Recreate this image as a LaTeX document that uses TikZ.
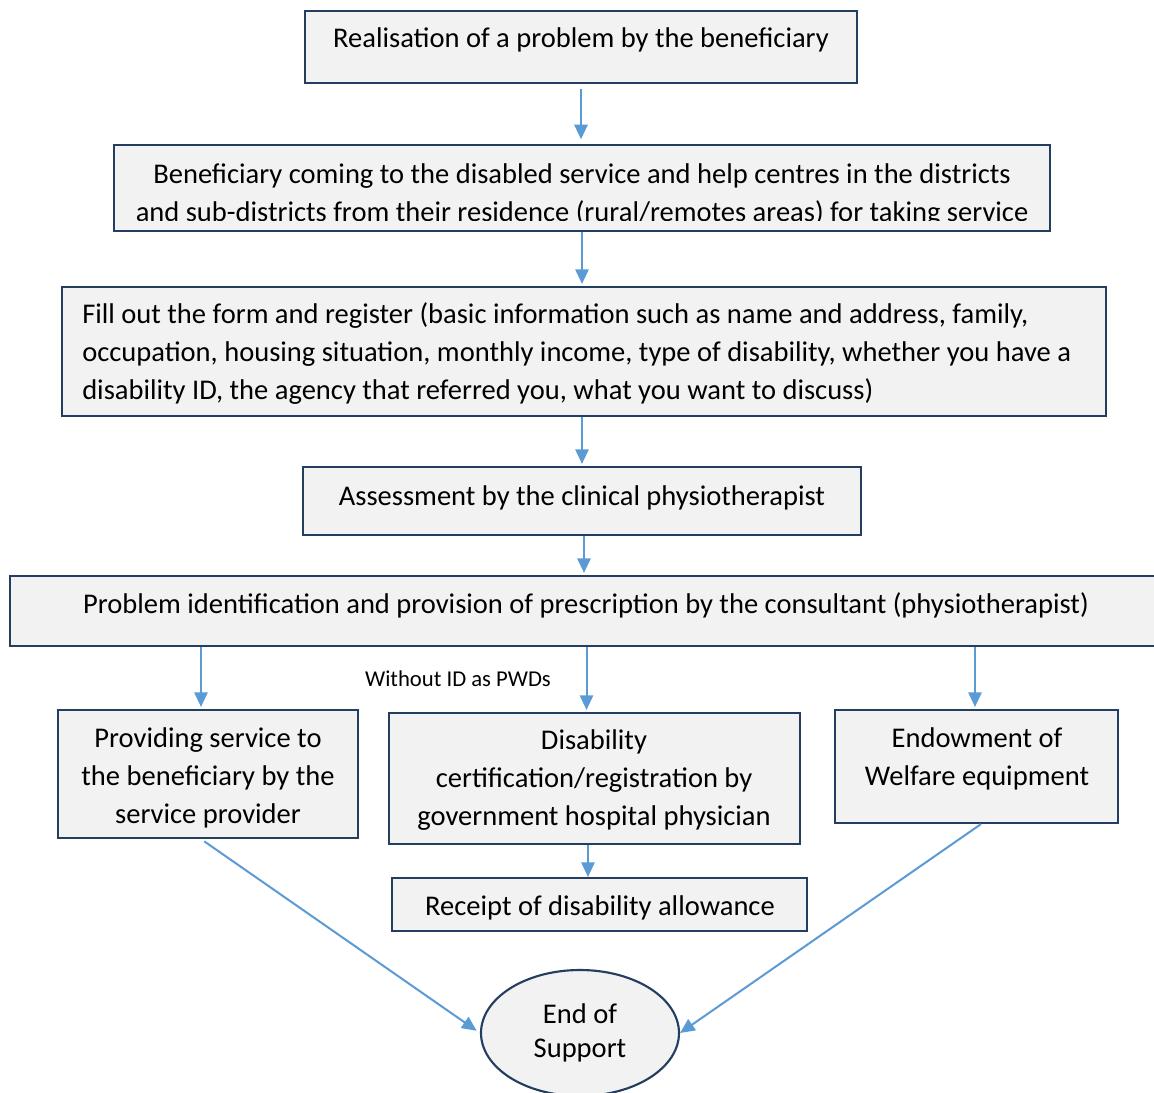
\documentclass[tikz,border=0pt]{standalone}
\usepackage{fontspec}
\setmainfont{Carlito}
\usetikzlibrary{arrows.meta,shapes.geometric,calc}
\definecolor{boxfill}{HTML}{F2F2F2}
\definecolor{boxline}{HTML}{233E5F}
\definecolor{flow}{HTML}{5B9BD5}
\begin{document}
\begin{tikzpicture}[x=0.75pt,y=-0.75pt,
  box/.style={draw=boxline, line width=1.6pt, fill=boxfill, rectangle, inner sep=0pt},
  txt/.style={font=\fontsize{21.4pt}{28.5pt}\selectfont, align=center, inner sep=0pt},
  small/.style={font=\fontsize{17pt}{20pt}\selectfont, inner sep=0pt},
  arr/.style={draw=flow, line width=1.5pt, -{Triangle[width=10pt,length=11pt]}, shorten >=1.5pt},
  endnode/.style={ellipse, draw=boxline, line width=1.6pt, fill=boxfill, inner sep=0pt,
    font=\fontsize{21.4pt}{25.5pt}\selectfont, align=center}]
\useasboundingbox (0,0) rectangle (1154,1093);

% process boxes
\node[box, minimum width=414pt, minimum height=54pt] (b1) at (581,47) {};
\node[box, minimum width=702pt, minimum height=64.5pt] (b2) at (582,188) {};
\node[box, minimum width=783pt, minimum height=96.75pt] (b3) at (584,351.5) {};
\node[box, minimum width=418.5pt, minimum height=51pt] (b4) at (582,501) {};
\node[box, minimum width=870pt, minimum height=52.5pt] (b5) at (590,611) {};
\node[box, minimum width=225pt, minimum height=96pt] (b6) at (208,774) {};
\node[box, minimum width=308.25pt, minimum height=98.25pt] (b7) at (594.5,778.5) {};
\node[box, minimum width=212.25pt, minimum height=84.75pt] (b8) at (976.5,766.5) {};
\node[box, minimum width=311.25pt, minimum height=39.75pt] (b9) at (599.5,904.5) {};
\node[endnode, minimum width=148.5pt, minimum height=94.5pt] (end) at (580,1033) {End of\\Support};

% box texts
\node[txt] (t1) at (581,40) {Realisation of a problem by the beneficiary};
\begin{scope}
  % the text area of this box is shorter than the box, so its last line is cut
  \clip ($(b2.north west)+(1,1)$) rectangle ($(b2.south east)+(-1,-11.5)$);
  \node[txt] (t2) at (582,195) {Beneficiary coming to the disabled service and help centres in the districts\\and sub-districts from their residence (rural/remotes areas) for taking service};
\end{scope}
\node[txt, align=left, anchor=west] (t3) at (82,354) {Fill out the form and register (basic information such as name and address, family,\\occupation, housing situation, monthly income, type of disability, whether you have a\\disability ID, the agency that referred you, what you want to discuss)};
\node[txt] (t4) at (582,498) {Assessment by the clinical physiotherapist};
\node[txt] (t5) at (586,605) {Problem identification and provision of prescription by the consultant (physiotherapist)};
\node[txt] (t6) at (208,778) {Providing service to\\the beneficiary by the\\service provider};
\node[txt] (t7) at (594,780) {Disability\\certification/registration by\\government hospital physician};
\node[txt] (t8) at (977,759) {Endowment of\\Welfare equipment};
\node[txt] (t9) at (600,908) {Receipt of disability allowance};
\node[small] (lbl) at (458,679) {Without ID as PWDs};

% connectors
\draw[arr, shorten <=4pt, shorten >=3.5pt] (b1.south) -- (b1.south |- b2.north);
\draw[arr] (b2.south) -- (b2.south |- b3.north);
\draw[arr] (b4.north |- b3.south) -- (b4.north);
\draw[arr] ($(b4.south)+(2,0)$) -- ($(b4.south |- b5.north)+(2,0)$);
\draw[arr] ($(b6.north |- b5.south)+(-7,0)$) -- ($(b6.north)+(-7,0)$);
\draw[arr] ($(b7.north |- b5.south)+(-8,0)$) -- ($(b7.north)+(-8,0)$);
\draw[arr] ($(b8.north |- b5.south)+(-1.5,0)$) -- ($(b8.north)+(-1.5,0)$);
\draw[arr, shorten >=0pt] ($(b7.south)+(-6.5,0)$) -- ($(b7.south |- b9.north)+(-6.5,0)$);
\draw[arr, shorten <=3pt, shorten >=3pt] ($(b6.south)+(-7,0)$) -- (end.west);
\draw[arr, shorten >=0pt] ($(b8.south)+(4.5,0)$) -- (end.east);
\end{tikzpicture}
\end{document}
